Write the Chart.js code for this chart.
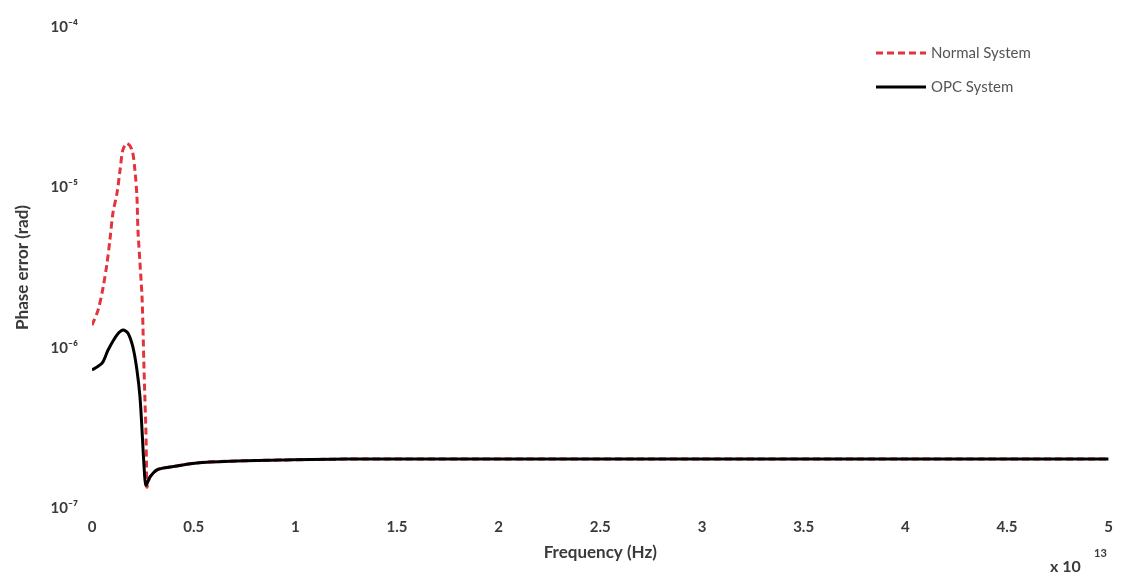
<!DOCTYPE html>
<html>
<head>
<meta charset="utf-8">
<script src="https://cdn.jsdelivr.net/npm/chart.js@4"></script>
<style>
  html, body { margin: 0; padding: 0; background: #fff; }
  #wrap { width: 1123px; height: 577px; position: relative; }
</style>
</head>
<body>
<div id="wrap"><canvas id="phaseChart"></canvas></div>
<script>
// frequency in units of 1e13 Hz
const normalFreq = [0, 0.03, 0.055, 0.074, 0.088, 0.103, 0.123, 0.138, 0.152, 0.172, 0.197, 0.211,
  0.221, 0.226, 0.236, 0.246, 0.251, 0.255, 0.26, 0.265, 0.268, 0.27, 0.285, 0.32, 0.383, 0.516,
  0.678, 0.923, 1.252, 2, 3, 4, 5];
const normalErr = [1.38e-6, 1.72e-6, 2.39e-6, 3.37e-6, 4.69e-6, 6.92e-6, 9.22e-6, 1.28e-5, 1.71e-5,
  1.88e-5, 1.71e-5, 1.28e-5, 8.71e-6, 5.42e-6, 3.37e-6, 2.07e-6, 1.29e-6, 8.02e-7, 4.92e-7, 3.06e-7,
  1.91e-7, 1.35e-7, 1.56e-7, 1.73e-7, 1.80e-7, 1.91e-7, 1.96e-7, 1.99e-7, 2.02e-7, 2.02e-7, 2.02e-7,
  2.02e-7, 2.02e-7];

const opcFreq = [0, 0.05, 0.079, 0.123, 0.152, 0.177, 0.201, 0.221, 0.236, 0.246, 0.255, 0.265,
  0.285, 0.32, 0.383, 0.516, 0.678, 0.923, 1.252, 2, 3, 4, 5];
const opcErr = [7.26e-7, 8.02e-7, 9.66e-7, 1.20e-6, 1.29e-6, 1.23e-6, 1.01e-6, 7.26e-7, 4.92e-7,
  3.06e-7, 1.91e-7, 1.39e-7, 1.56e-7, 1.73e-7, 1.80e-7, 1.91e-7, 1.96e-7, 1.99e-7, 2.02e-7, 2.02e-7,
  2.02e-7, 2.02e-7, 2.02e-7];

const seriesNames = ["Normal System", "OPC System"];
const xTicks = [0, 0.5, 1, 1.5, 2, 2.5, 3, 3.5, 4, 4.5, 5];
const yDecades = [1e-7, 1e-6, 1e-5, 1e-4];
const supers = { "-": "\u207b", "4": "\u2074", "5": "\u2075", "6": "\u2076", "7": "\u2077" };

const toPoints = (xs, ys) => xs.map((x, i) => ({ x, y: ys[i] }));
const textColor = "#3a3a3a";
const fontFam = "'Lato', 'DejaVu Sans', sans-serif";

// legend in the top right corner + the x multiplier
const extras = {
  id: "extras",
  afterDraw(chart) {
    const ctx = chart.ctx;
    ctx.save();
    const rows = [
      { y: 53, color: "#e5333d", dash: [7, 4] },
      { y: 87, color: "#000", dash: [] },
    ];
    rows.forEach((r, i) => {
      ctx.beginPath();
      ctx.setLineDash(r.dash);
      ctx.strokeStyle = r.color;
      ctx.lineWidth = 3;
      ctx.moveTo(876, r.y);
      ctx.lineTo(926, r.y);
      ctx.stroke();
      ctx.setLineDash([]);
      ctx.fillStyle = "#555";
      ctx.font = "15px " + fontFam;
      ctx.textBaseline = "middle";
      ctx.fillText(seriesNames[i], 931, r.y);
    });
    ctx.fillStyle = textColor;
    ctx.font = "bold 16px " + fontFam;
    ctx.textBaseline = "alphabetic";
    ctx.fillText("x 10", 1050, 572);
    ctx.font = "bold 11px " + fontFam;
    ctx.fillText("13", 1094, 557);
    ctx.restore();
  },
};

new Chart(document.getElementById("phaseChart"), {
  type: "line",
  data: {
    datasets: [
      {
        label: seriesNames[1],
        data: toPoints(opcFreq, opcErr),
        borderColor: "#000",
        borderWidth: 3,
        pointRadius: 0,
        tension: 0.3,
        order: 0,
      },
      {
        label: seriesNames[0],
        data: toPoints(normalFreq, normalErr),
        borderColor: "#e5333d",
        borderWidth: 3,
        borderDash: [7, 4],
        pointRadius: 0,
        tension: 0.3,
        order: 1,
      },
    ],
  },
  options: {
    responsive: true,
    maintainAspectRatio: false,
    animation: false,
    layout: { padding: { left: 0, right: 13, top: 27, bottom: 0 } },
    plugins: { legend: { display: false }, tooltip: { enabled: false } },
    scales: {
      x: {
        type: "linear",
        min: 0,
        max: 5,
        grid: { display: false, drawTicks: false },
        border: { display: false },
        afterBuildTicks: (s) => { s.ticks = xTicks.map((v) => ({ value: v })); },
        ticks: {
          color: textColor,
          padding: 10,
          font: { family: fontFam, size: 15, weight: "bold" },
          callback: (v) => String(v),
        },
        title: {
          display: true,
          text: "Frequency (Hz)",
          color: textColor,
          padding: { top: 0, bottom: 14 },
          font: { family: fontFam, size: 17, weight: "bold" },
        },
        afterFit: (s) => { s.height = 69; },
      },
      y: {
        type: "logarithmic",
        min: 1e-7,
        max: 1e-4,
        grid: { display: false, drawTicks: false },
        border: { display: false },
        afterBuildTicks: (s) => { s.ticks = yDecades.map((v) => ({ value: v })); },
        ticks: {
          color: textColor,
          padding: 14,
          font: { family: fontFam, size: 15, weight: "bold" },
          callback: (v) => "10" + String(Math.round(Math.log10(v))).split("").map((c) => supers[c]).join(""),
        },
        title: {
          display: true,
          text: "Phase error (rad)",
          color: textColor,
          padding: { top: 12, bottom: 0 },
          font: { family: fontFam, size: 17, weight: "bold" },
        },
        afterFit: (s) => { s.width = 92; },
      },
    },
  },
  plugins: [extras],
});
</script>
</body>
</html>
